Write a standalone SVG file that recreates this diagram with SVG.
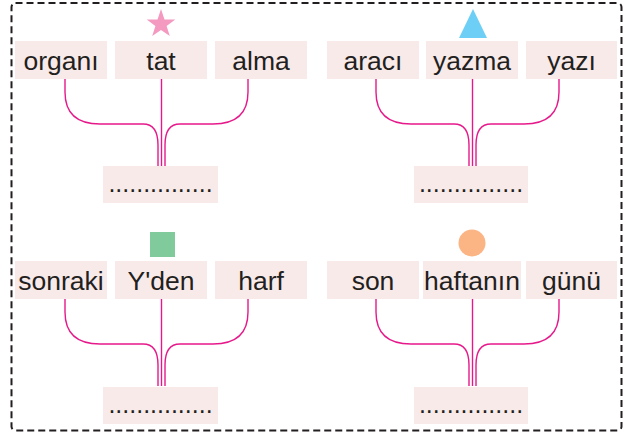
<svg xmlns="http://www.w3.org/2000/svg" width="631" height="434" viewBox="0 0 631 434">
<style>
.box{fill:#f9eaea}
.t{font-family:"Liberation Sans",Arial,sans-serif;font-size:26.5px;fill:#231f20;text-anchor:middle}
.d{font-family:"Liberation Sans",Arial,sans-serif;font-size:25px;fill:#231f20;text-anchor:middle}
.c{fill:none;stroke:#e6198b;stroke-width:1.4}
</style>
<defs>
<g id="links">
<path class="c" d="M65,79 V92 C65,114 78,124 100,124 H143 C154,124 158,132 158,145 V166"/>
<path class="c" d="M161.5,79 V166"/>
<path class="c" d="M248,79 V92 C248,114 235,124 213,124 H180 C169,124 165,132 165,145 V166"/>
</g>
</defs>
<rect x="11.5" y="3" width="610" height="427.5" rx="4" fill="none" stroke="#231f20" stroke-width="2" stroke-dasharray="7 4"/>
<g id="connectors">
<use href="#links"/>
<use href="#links" transform="translate(311,0)"/>
<use href="#links" transform="translate(0,220)"/>
<use href="#links" transform="translate(311,220)"/>
</g>
<g id="g1">
<polygon fill="#f49ac1" points="161,9 164.5,19.4 175.3,19.4 166.6,25.9 169.8,36.1 161,30 152.2,36.1 155.4,25.9 146.7,19.4 157.5,19.4"/>
<g id="n-organi"><rect class="box" x="15" y="41" width="92" height="38"/><text class="t" x="61" y="70">organı</text></g>
<g id="n-tat"><rect class="box" x="115" y="41" width="92" height="38"/><text class="t" x="161" y="70">tat</text></g>
<g id="n-alma"><rect class="box" x="215" y="41" width="92" height="38"/><text class="t" x="261" y="70">alma</text></g>
<g id="n-a1"><rect class="box" x="103" y="166" width="115" height="37"/><text class="d" x="160.5" y="192">...............</text></g>
</g>
<g id="g2">
<polygon fill="#6dcff6" points="473,9 487,38 459,38"/>
<g id="n-araci"><rect class="box" x="327" y="41" width="92" height="38"/><text class="t" x="373" y="70">aracı</text></g>
<g id="n-yazma"><rect class="box" x="426" y="41" width="92" height="38"/><text class="t" x="472" y="70">yazma</text></g>
<g id="n-yazi"><rect class="box" x="526" y="41" width="91" height="38"/><text class="t" x="571.5" y="70">yazı</text></g>
<g id="n-a2"><rect class="box" x="414" y="166" width="114" height="37"/><text class="d" x="471" y="192">...............</text></g>
</g>
<g id="g3">
<rect fill="#81ca9c" x="150" y="232" width="25" height="25"/>
<g id="n-sonraki"><rect class="box" x="15" y="261" width="92" height="38"/><text class="t" x="61" y="290">sonraki</text></g>
<g id="n-yden"><rect class="box" x="115" y="261" width="92" height="38"/><text class="t" x="161" y="290">Y'den</text></g>
<g id="n-harf"><rect class="box" x="215" y="261" width="92" height="38"/><text class="t" x="261" y="290">harf</text></g>
<g id="n-a3"><rect class="box" x="103" y="387" width="115" height="37"/><text class="d" x="160.5" y="413">...............</text></g>
</g>
<g id="g4">
<circle fill="#fbb584" cx="472" cy="243" r="13.5"/>
<g id="n-son"><rect class="box" x="327" y="261" width="92" height="38"/><text class="t" x="373" y="290">son</text></g>
<g id="n-haftanin"><rect class="box" x="423" y="261" width="98" height="38"/><text class="t" x="472" y="290">haftanın</text></g>
<g id="n-gunu"><rect class="box" x="526" y="261" width="91" height="38"/><text class="t" x="571.5" y="290">günü</text></g>
<g id="n-a4"><rect class="box" x="414" y="387" width="114" height="37"/><text class="d" x="471" y="413">...............</text></g>
</g>
</svg>
